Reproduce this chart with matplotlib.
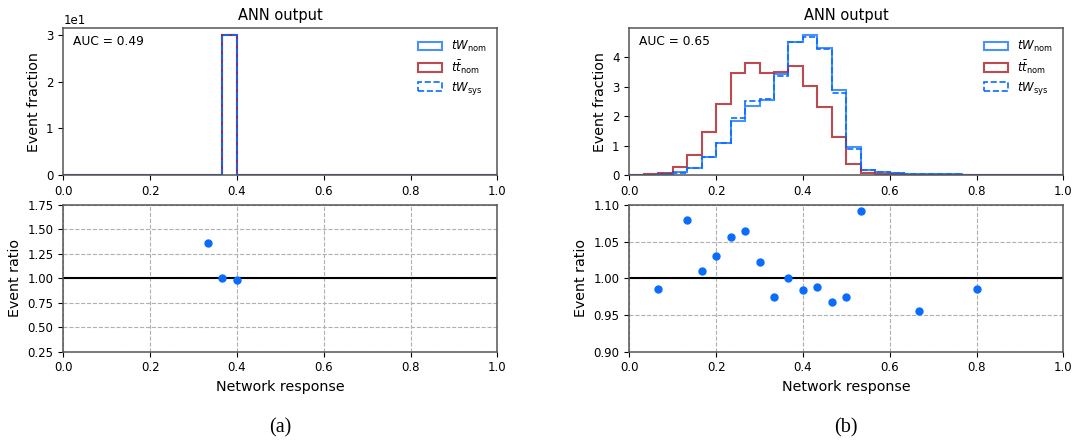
import numpy as np
import matplotlib
matplotlib.use('Agg')
import matplotlib.pyplot as plt

# 30 equal bins on [0, 1]
edges = np.linspace(0.0, 1.0, 31)
centers = 0.5 * (edges[:-1] + edges[1:])

# (a) everything lands in one bin
tw_nom_a = [0, 0, 0, 0, 0, 0, 0, 0, 0, 0, 0, 30.0, 0, 0, 0,
            0, 0, 0, 0, 0, 0, 0, 0, 0, 0, 0, 0, 0, 0, 0]
tt_nom_a = [0, 0, 0, 0, 0, 0, 0, 0, 0, 0, 0, 30.0, 0, 0, 0,
            0, 0, 0, 0, 0, 0, 0, 0, 0, 0, 0, 0, 0, 0, 0]
tw_sys_a = [0, 0, 0, 0, 0, 0, 0, 0, 0, 0, 0, 30.0, 0, 0, 0,
            0, 0, 0, 0, 0, 0, 0, 0, 0, 0, 0, 0, 0, 0, 0]
ratio_x_a = [0.3333, 0.3667, 0.4000]
ratio_y_a = [1.358, 1.000, 0.986]
auc_a = 0.49

# (b)
tw_nom_b = [0, 0.01, 0.05, 0.10, 0.23, 0.62, 1.08, 1.82, 2.35, 2.55, 3.43, 4.53, 4.75, 4.33, 2.89,
            0.94, 0.17, 0.09, 0.08, 0.05, 0.03, 0.02, 0.02, 0.01, 0.01, 0, 0, 0, 0, 0]
tt_nom_b = [0, 0.02, 0.08, 0.26, 0.67, 1.47, 2.42, 3.47, 3.82, 3.48, 3.51, 3.72, 3.04, 2.31, 1.28,
            0.37, 0.06, 0.04, 0.03, 0.01, 0, 0, 0, 0, 0, 0, 0, 0, 0, 0]
tw_sys_b = [0, 0.01, 0.05, 0.08, 0.25, 0.62, 1.10, 1.93, 2.50, 2.60, 3.35, 4.53, 4.68, 4.27, 2.80,
            0.90, 0.18, 0.09, 0.08, 0.05, 0.03, 0.02, 0.02, 0.01, 0.01, 0, 0, 0, 0, 0]
ratio_x_b = [0.0667, 0.1333, 0.1667, 0.2000, 0.2333, 0.2667, 0.3000, 0.3333,
             0.3667, 0.4000, 0.4333, 0.4667, 0.5000, 0.5333, 0.6667, 0.8000]
ratio_y_b = [0.986, 1.079, 1.010, 1.030, 1.056, 1.064, 1.022, 0.975,
             1.001, 0.984, 0.988, 0.968, 0.975, 1.092, 0.956, 0.986]
auc_b = 0.65

BLUE = '#0a6cff'
RED = '#a50f15'
SPINE = '#555555'

plt.rcParams['font.size'] = 8.5
plt.rcParams['axes.edgecolor'] = SPINE
plt.rcParams['axes.linewidth'] = 1.1

fig = plt.figure(figsize=(10.77, 4.41), dpi=100)


def draw_panel(x0, nom, tt, sys, rx, ry, auc, rlim, caption):
    w = 0.4030
    ax = fig.add_axes([x0, 0.6032, w, 0.3327])
    ax.hist(centers, bins=edges, weights=nom, histtype='step', color=BLUE, lw=1.5,
            alpha=0.75, label=r'$tW_\mathrm{nom}$')
    ax.hist(centers, bins=edges, weights=tt, histtype='step', color=RED, lw=1.5,
            alpha=0.75, label=r'$t\bar{t}_\mathrm{nom}$')
    ax.hist(centers, bins=edges, weights=sys, histtype='step', color=BLUE, lw=1.2,
            ls='--', label=r'$tW_\mathrm{sys}$')
    ax.set_xlim(0, 1)
    ax.set_ylim(bottom=0)
    ax.ticklabel_format(axis='y', style='sci', scilimits=(-1, 1))
    ax.set_ylabel('Event fraction', fontsize=10.3)
    ax.set_title('ANN output', fontsize=10.5)
    ax.text(0.022, 0.91, f'AUC = {auc:.2f}', transform=ax.transAxes, va='center', fontsize=8.8)
    ax.legend(loc='upper right', frameon=False, fontsize=8.5, labelspacing=0.35)

    rax = fig.add_axes([x0, 0.2025, w, 0.3327])
    rax.axhline(1.0, color='black', lw=1.5)
    rax.plot(rx, ry, 'o', color=BLUE, ms=5)
    rax.set_xlim(0, 1)
    rax.set_ylim(*rlim)
    rax.grid(True, ls='--', color='#b0b0b0', lw=0.8)
    rax.set_axisbelow(True)
    rax.set_ylabel('Event ratio', fontsize=10.3)
    rax.set_xlabel('Network response', fontsize=10.3)

    fig.text(x0 + w / 2, 0.03, caption, ha='center', va='center',
             family='Liberation Serif', fontsize=14.5)
    return ax, rax


draw_panel(0.0588, tw_nom_a, tt_nom_a, tw_sys_a, ratio_x_a, ratio_y_a, auc_a, (0.25, 1.75), '(a)')
draw_panel(0.5843, tw_nom_b, tt_nom_b, tw_sys_b, ratio_x_b, ratio_y_b, auc_b, (0.90, 1.10), '(b)')

fig.savefig('out.png', dpi=100)
